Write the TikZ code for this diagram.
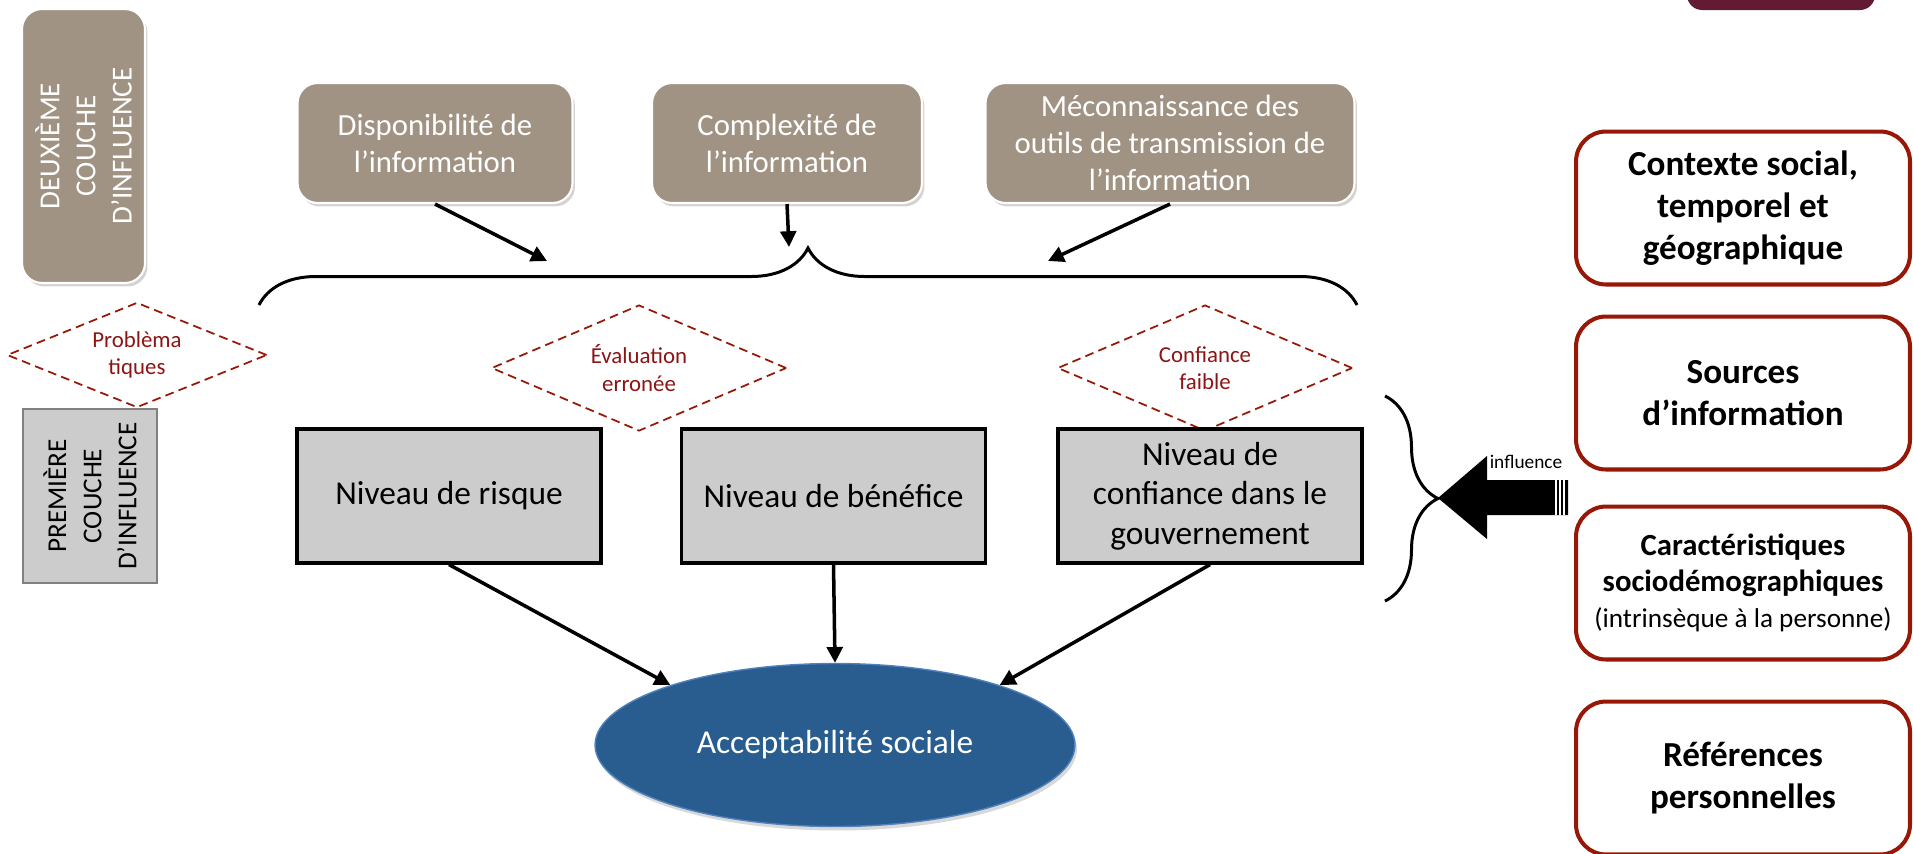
\documentclass[tikz,border=0pt]{standalone}
\usepackage{fontspec}
\setmainfont{Carlito}
\usetikzlibrary{shapes.geometric,decorations.pathreplacing,arrows.meta,shadows}

\definecolor{taupe}{RGB}{160,147,131}
\definecolor{boxgray}{RGB}{204,204,204}
\definecolor{darkred}{RGB}{152,24,8}
\definecolor{diamred}{RGB}{140,20,20}
\definecolor{ovalblue}{RGB}{41,93,143}
\definecolor{ovalline}{RGB}{79,129,189}
\definecolor{maroon}{RGB}{98,27,50}

\tikzset{
  infobox/.style={draw=white, line width=1.2pt, fill=taupe, rounded corners=0.4cm,
    text=white, align=center, minimum height=2.4cm,
    drop shadow={opacity=0.35, shadow xshift=0.05cm, shadow yshift=-0.07cm},
    font=\fontsize{17.5}{21}\selectfont},
  layerbox/.style={rotate=90, align=center, inner sep=0pt},
  levelbox/.style={draw=black, line width=1.8pt, fill=boxgray, align=center,
    minimum width=6.08cm, minimum height=2.68cm,
    font=\fontsize{19}{22.5}\selectfont},
  issue/.style={diamond, aspect=2.5, draw=darkred, line width=1pt, dash pattern=on 5pt off 3pt,
    text=diamred, align=center, inner sep=0pt, font=\fontsize{13}{15.5}\selectfont},
  factor/.style={draw=darkred, line width=2.3pt, rounded corners=0.6cm, fill=white,
    minimum width=6.68cm, minimum height=3.06cm, align=center,
    font=\bfseries\fontsize{20}{24}\selectfont},
  arr/.style={line width=2pt, -{Triangle[length=9pt,width=9pt]}},
  bracket/.style={line width=1.7pt, decorate}
}

\begin{document}
\begin{tikzpicture}[x=0.02cm, y=-0.02cm]
  \useasboundingbox (0,0) rectangle (1913,853);
  \clip (0,0) rectangle (1913,853);

  \node[fill=maroon, rounded corners=0.3cm, minimum width=3.76cm, minimum height=0.8cm] (corner) at (1781,-10) {};

  \node[layerbox, fill=taupe, draw=white, line width=1.2pt, rounded corners=0.4cm, text=white,
    minimum width=5.48cm, minimum height=2.46cm, font=\fontsize{16.5}{20.5}\selectfont,
    drop shadow={opacity=0.35, shadow xshift=0.05cm, shadow yshift=-0.07cm}] (second) at (83.5,146)
    {DEUXIÈME\\COUCHE\\D’INFLUENCE};
  \node[layerbox, fill=boxgray, draw=gray, line width=0.8pt, font=\fontsize{15.5}{20}\selectfont,
    minimum width=3.48cm, minimum height=2.68cm] (first) at (90,496)
    {PREMIÈRE\\COUCHE\\D’INFLUENCE};

  \node[infobox, minimum width=5.5cm] (dispo) at (435,143) {Disponibilité de\\l’information};
  \node[infobox, minimum width=5.4cm] (complex) at (787,143) {Complexité de\\l’information};
  \node[infobox, minimum width=7.38cm] (meconn) at (1170,143) {Méconnaissance des\\outils de transmission de\\l’information};

  \coordinate (bl) at (547,261);
  \coordinate (bm) at (789,247);
  \coordinate (br) at (1048,261);
  \draw[arr] (dispo.south) -- (bl);
  \draw[arr] (complex.south) -- (bm);
  \draw[arr] (meconn.south) -- (br);

  \coordinate (topl) at (259,305);
  \coordinate (topr) at (1357,305);
  \draw[bracket, decoration={brace, amplitude=1.14cm}] (topl) -- (topr);

  \node[issue, minimum width=5.2cm, minimum height=2.1cm] (probl) at (137,355) {Problèma\\tiques};
  \node[issue, minimum width=5.9cm, minimum height=2.52cm] (evalu) at (639,368) {Évaluation\\erronée};
  \node[issue, minimum width=5.9cm, minimum height=2.52cm] (trust) at (1205,368) {Confiance\\faible};

  \node[levelbox] (risque) at (449,496) {Niveau de risque};
  \node[levelbox] (benef) at (833.5,496) {Niveau de bénéfice};
  \node[levelbox] (confiance) at (1210,496) {Niveau de\\confiance dans le\\gouvernement};

  \node[ellipse, fill=ovalblue, draw=ovalline, line width=0.8pt, text=white,
    minimum width=9.6cm, minimum height=3.26cm, font=\fontsize{19}{23}\selectfont,
    drop shadow={opacity=0.3, shadow xshift=0.04cm, shadow yshift=-0.08cm}] (accept) at (835,745)
    {Acceptabilité sociale};

  \draw[arr] (risque.south) -- (accept.160);
  \draw[arr] (benef.south) -- (accept.north);
  \draw[arr] (confiance.south) -- (accept.20);

  \coordinate (sidet) at (1385,396);
  \coordinate (sideb) at (1385,601);
  \draw[bracket, decoration={brace, amplitude=1.06cm}] (sidet) -- (sideb);

  \coordinate (rtip) at (1438,498);
  \fill[black] (rtip) -- (1487,456) -- (1487,480) -- (1568,480) -- (1568,515)
    -- (1487,515) -- (1487,539) -- cycle;
  \foreach \sx in {1556,1560,1564}
    \draw[white, line width=0.6pt] (\sx,480) -- (\sx,515);
  \node[font=\fontsize{11}{13}\selectfont, inner sep=0pt] (inflabel) at (1526,462) {influence};

  \node[factor] (contexte) at (1743,208) {Contexte social,\\temporel et\\géographique};
  \node[factor] (sources) at (1743,393) {Sources\\d’information};
  \node[factor, font=\bfseries\fontsize{17.5}{20.5}\selectfont] (caract) at (1743,583)
    {Caractéristiques\\sociodémographiques\\{\normalfont\fontsize{15.5}{19}\selectfont(intrinsèque à la personne)}};
  \node[factor] (refs) at (1743,778) {Références\\personnelles};
\end{tikzpicture}
\end{document}
